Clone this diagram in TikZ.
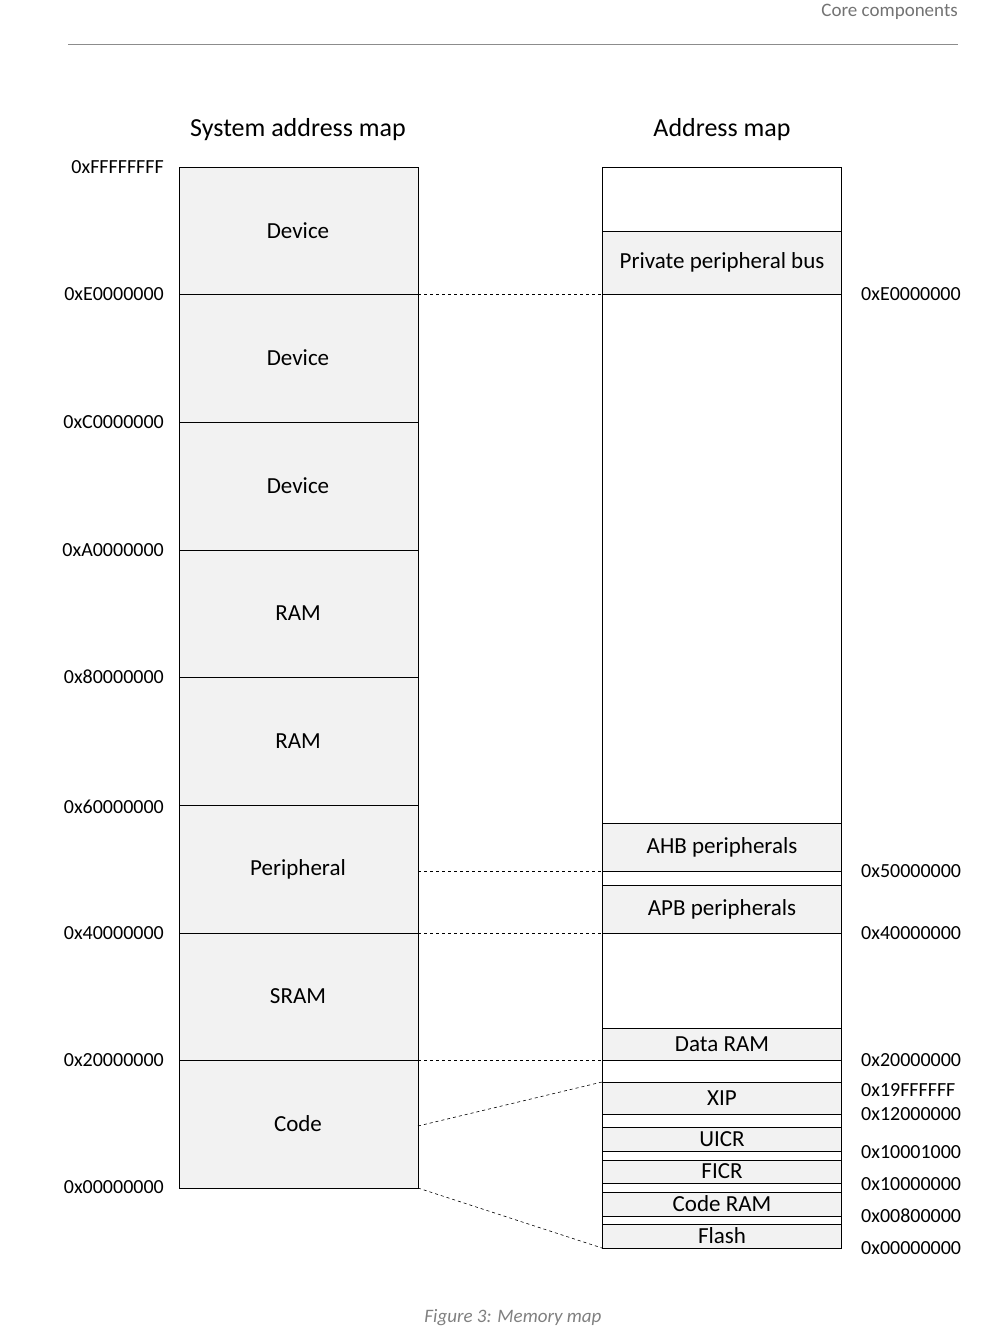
\documentclass[tikz,border=0pt]{standalone}
\usepackage{fontspec}
\setmainfont{Carlito}
\begin{document}
\begin{tikzpicture}[x=1pt,y=-1pt,
 blk/.style={draw=black,fill=black!5,line width=0.8pt},
 txt/.style={font=\fontsize{23}{26}\selectfont,inner sep=0pt},
 addr/.style={font=\fontsize{20}{22}\selectfont,inner sep=0pt},
 dsh/.style={dashed,line width=0.6pt}]
\useasboundingbox (0,0) rectangle (999,1338);
\node[anchor=north east,font=\fontsize{19}{21}\selectfont,text=black!55,inner sep=0pt] (hdr) at (958,4) {Core components};
\draw[black!45,line width=0.8pt] (68,44) -- (958,44);
\node[font=\fontsize{26}{28}\selectfont,inner sep=0pt] (t1) at (298,130) {System address map};
\node[font=\fontsize{26}{28}\selectfont,inner sep=0pt] (t2) at (722,130) {Address map};
% left column
\foreach \n/\a/\b/\t in {L1/167/294/Device,L2/294/422/Device,L3/422/550/Device,L4/550/677/RAM,L5/677/805/RAM,L6/805/933/Peripheral,L7/933/1060/SRAM,L8/1060/1188/Code}{
 \draw[blk] (179,\a) rectangle (418,\b);
 \node[txt] (\n) at (298,{(\a+\b)/2}) {\t};}
\foreach \y/\t in {167/0xFFFFFFFF,294/0xE0000000,422/0xC0000000,550/0xA0000000,677/0x80000000,807/0x60000000,933/0x40000000,1060/0x20000000,1187/0x00000000}{
 \node[addr,anchor=east] at (164,\y) {\t};}
% right column
\draw[line width=0.8pt] (602,167) rectangle (841,1248);
\foreach \n/\a/\b/\t in {R1/231/294/Private peripheral bus,R2/823/871/AHB peripherals,R3/885/933/APB peripherals,R4/1028/1060/Data RAM,R5/1082/1114/XIP,R6/1127/1151/UICR,R7/1160/1183/FICR,R8/1192/1216/Code RAM,R9/1224/1248/Flash}{
 \draw[blk] (602,\a) rectangle (841,\b);
 \node[txt] (\n) at (722,{(\a+\b)/2}) {\t};}
\foreach \y/\t in {294/0xE0000000,871/0x50000000,933/0x40000000,1060/0x20000000,1090/0x19FFFFFF,1114/0x12000000,1152/0x10001000,1184/0x10000000,1216/0x00800000,1248/0x00000000}{
 \node[addr,anchor=west] at (861,\y) {\t};}
% dashed connectors
\coordinate (a1) at (418,294); \coordinate (b1) at (602,294);
\coordinate (a2) at (418,871); \coordinate (b2) at (602,871);
\coordinate (a3) at (418,933); \coordinate (b3) at (602,933);
\coordinate (a4) at (418,1060); \coordinate (b4) at (602,1060);
\coordinate (a5) at (418,1126); \coordinate (b5) at (602,1082);
\coordinate (a6) at (418,1188); \coordinate (b6) at (602,1248);
\foreach \i in {1,...,6}{\draw[dsh] (a\i) -- (b\i);}
\node[font=\itshape\fontsize{19}{21}\selectfont,text=black!50,inner sep=0pt] (cap) at (513,1318) {Figure 3: Memory map};
\end{tikzpicture}
\end{document}
